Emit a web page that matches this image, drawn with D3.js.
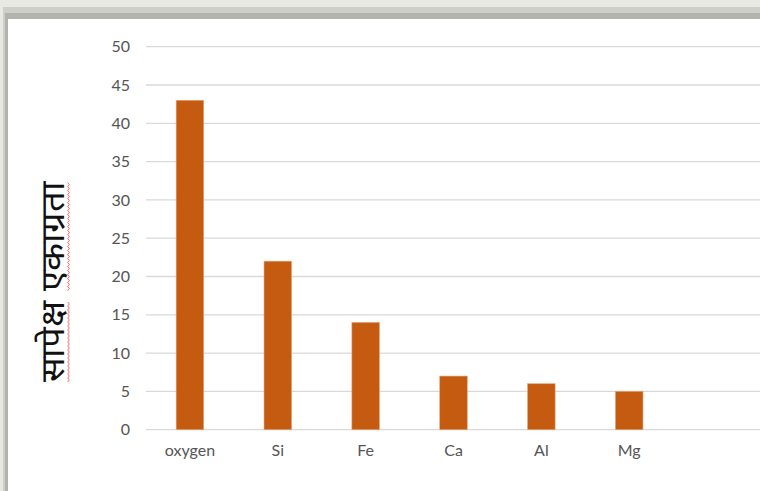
<!DOCTYPE html>
<html>
<head>
<meta charset="utf-8">
<style>
body { margin: 0; background: #fff; overflow: hidden; }
svg text { font-family: Lato, "Open Sans", sans-serif; }
</style>
</head>
<body>
<svg width="760" height="491"></svg>
<script src="https://d3js.org/d3.v7.min.js"></script>
<script>

// values; last slot is an empty category in the sheet
var categories = ["oxygen", "Si", "Fe", "Ca", "Al", "Mg", ""];
var values = [43, 22, 14, 7, 6, 5, null];
var yTicks = [0, 5, 10, 15, 20, 25, 30, 35, 40, 45, 50];
var yLabel = "सापेक्ष एकाग्रता";

var svg = d3.select("svg");

// shadow frame around the pasted chart
svg.append("rect").attr("width", 760).attr("height", 491).attr("fill", "#e9e9e4");
svg.append("rect").attr("x", 3).attr("y", 7).attr("width", 757).attr("height", 484).attr("fill", "#cfcfca");
svg.append("rect").attr("x", 5).attr("y", 13).attr("width", 755).attr("height", 478).attr("fill", "#b3b3ae");
svg.append("rect").attr("x", 8).attr("y", 19).attr("width", 752).attr("height", 472).attr("fill", "#ffffff");

var x = d3.scaleBand()
    .domain(categories)
    .range([146, 761])
    .paddingInner(0.687)
    .paddingOuter(0.3435);

var y = d3.scaleLinear()
    .domain([0, 50])
    .range([429.7, 46.7]);

// gridlines
svg.append("g")
  .selectAll("line")
  .data(yTicks)
  .enter().append("line")
    .attr("x1", 146)
    .attr("x2", 760)
    .attr("y1", function(d) { return y(d); })
    .attr("y2", function(d) { return y(d); })
    .attr("stroke", "#d9d9d9")
    .attr("stroke-width", 1.3);

// y tick labels
var yAxis = svg.append("g")
    .attr("transform", "translate(130,0)")
    .call(d3.axisLeft(y).tickValues(yTicks).tickSize(0).tickPadding(0));
yAxis.select(".domain").remove();
yAxis.selectAll("text")
    .attr("fill", "#555555")
    .attr("font-family", "Lato, 'Open Sans', sans-serif")
    .attr("font-size", 16);

// bars
svg.append("g")
  .selectAll("rect")
  .data(categories.map(function(c, i) { return {cat: c, v: values[i]}; }).filter(function(d) { return d.v != null; }))
  .enter().append("rect")
    .attr("x", function(d) { return x(d.cat); })
    .attr("width", x.bandwidth())
    .attr("y", function(d) { return y(d.v); })
    .attr("height", function(d) { return y(0) - y(d.v); })
    .attr("fill", "#c55a11")
    .attr("stroke", "#e9a06e")
    .attr("stroke-width", 0.6);

// category labels
var xAxis = svg.append("g")
    .attr("transform", "translate(0,445)")
    .call(d3.axisBottom(x).tickSize(0).tickPadding(0));
xAxis.select(".domain").remove();
xAxis.selectAll("text")
    .attr("fill", "#555555")
    .attr("font-family", "Lato, 'Open Sans', sans-serif")
    .attr("font-size", 16);

// rotated axis title
var titleLen = 201;
var title = svg.append("text")
    .attr("transform", "translate(64,281.5) rotate(-90)")
    .attr("text-anchor", "middle")
    .attr("font-family", "'Noto Sans Devanagari', 'Lohit Devanagari', Mangal, sans-serif")
    .attr("font-size", 33)
    .attr("fill", "#111111")
    .text(yLabel);

// spell-check squiggle under each word (measured before stretching)
var node = title.node();
var natural = node.getComputedTextLength();
var k = titleLen / natural;
var words = yLabel.split(" ");
var start = 0;
var spans = words.map(function(w) {
  var offs = start === 0 ? 0 : node.getSubStringLength(0, start);
  var len = node.getSubStringLength(start, w.length);
  start += w.length + 1;
  return [offs * k, (offs + len) * k];
});
title.attr("textLength", titleLen).attr("lengthAdjust", "spacingAndGlyphs");

var wave = svg.append("g").attr("transform", "translate(64,281.5) rotate(-90)");
spans.forEach(function(s) {
  var x0 = -titleLen / 2 + s[0], x1 = -titleLen / 2 + s[1];
  var pts = [];
  for (var px = x0, j = 0; px <= x1; px += 2, j++) pts.push([px, 4 + (j % 2 ? 1.3 : -0.3)]);
  wave.append("path")
    .attr("d", d3.line()(pts))
    .attr("fill", "none")
    .attr("stroke", "#f03a3a")
    .attr("stroke-width", 0.9)
    .attr("opacity", 0.85);
});

</script>
</body>
</html>
